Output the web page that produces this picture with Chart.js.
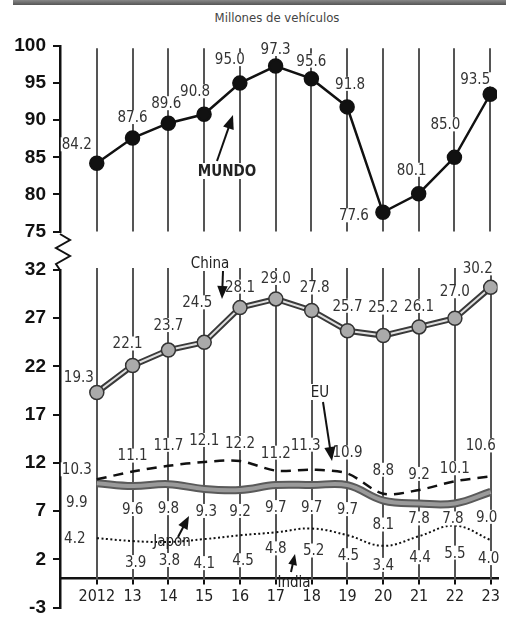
<!DOCTYPE html>
<html>
<head>
<meta charset="utf-8">
<script src="https://cdn.jsdelivr.net/npm/chart.js@4.4.0/dist/chart.umd.min.js"></script>
<style>
  body { margin: 0; background: #fff; width: 506px; height: 626px; overflow: hidden; position: relative; }
  #band { position: absolute; left: 13px; top: 0; width: 493px; height: 5px; background: linear-gradient(#888, #555); }
  #title { position: absolute; top: 10px; left: 0; width: 554px; text-align: center; color: #444;
           font: 13px "DejaVu Sans Condensed", "Liberation Sans Narrow", "DejaVu Sans", sans-serif; }
  canvas { position: absolute; left: 0; }
  #topChart { top: 0; }
  #bottomChart { top: 228px; }
</style>
</head>
<body>
<div id="band"></div>
<div id="title">Millones de vehículos</div>
<canvas id="topChart" width="506" height="250"></canvas>
<canvas id="bottomChart" width="506" height="398"></canvas>
<script>
// data, millones de vehiculos
const years = ["2012", "13", "14", "15", "16", "17", "18", "19", "20", "21", "22", "23"];
const mundo = [84.2, 87.6, 89.6, 90.8, 95.0, 97.3, 95.6, 91.8, 77.6, 80.1, 85.0, 93.5];
const china = [19.3, 22.1, 23.7, 24.5, 28.1, 29.0, 27.8, 25.7, 25.2, 26.1, 27.0, 30.2];
const eu = [10.3, 11.1, 11.7, 12.1, 12.2, 11.2, 11.3, 10.9, 8.8, 9.2, 10.1, 10.6];
const japan = [9.9, 9.6, 9.8, 9.3, 9.2, 9.7, 9.7, 9.7, 8.1, 7.8, 7.8, 9.0];
const india = [4.2, 3.9, 3.8, 4.1, 4.5, 4.8, 5.2, 4.5, 3.4, 4.4, 5.5, 4.0];
const topTicks = [75, 80, 85, 90, 95, 100];
const bottomTicks = [-3, 2, 7, 12, 17, 22, 27, 32];

// where each value label sits relative to its point (px)
const mundoOff = [[-20,-19],[0,-21],[-2,-20],[-9,-23],[-10,-24],[0,-17],[0,-18],[3,-23],[-29,3],[-7,-24],[-9,-33],[-15,-15]];
const chinaOff = [[-18,-15],[-5,-22],[0,-25],[-7,-40],[0,-21],[0,-21],[3,-23],[0,-25],[0,-28],[0,-21],[0,-27],[-13,-19]];
const euOff = [[-20,-10],[0,-16],[0,-21],[0,-22],[0,-18],[0,-18],[-6,-25],[0,-21],[0,-24],[0,-16],[0,-13],[-10,-31]];
const japanOff = [[-20,19],[0,23],[0,24],[2,22],[0,21],[0,22],[0,22],[0,24],[0,24],[0,15],[-2,15],[-4,25]];
const indiaOff = [[-22,0],[3,21],[1,18],[0,24],[3,25],[0,16],[2,22],[1,20],[0,19],[1,21],[0,27],[-2,18]];

const FONT = '"DejaVu Sans Condensed", "Liberation Sans Narrow", "DejaVu Sans", sans-serif';

function pts(arr) {
  return arr.map((v, i) => ({ x: i, y: v }));
}

function xAxis(show) {
  return {
    type: "linear",
    min: -1.028,
    max: 11.19,
    display: show,
    position: show ? { y: 0 } : "bottom",
    afterBuildTicks: (a) => { a.ticks = years.map((_, i) => ({ value: i })); },
    border: { display: true, color: "#111", width: 2.5 },
    grid: { drawOnChartArea: false, color: "#111", lineWidth: 2, tickLength: 5 },
    ticks: {
      color: "#222", padding: 4, maxRotation: 0, autoSkip: false,
      font: { family: FONT, size: 16 },
      callback: (v) => years[v],
    },
  };
}

function yAxis(tickVals, min, max) {
  return {
    min: min,
    max: max,
    afterBuildTicks: (a) => { a.ticks = tickVals.map((v) => ({ value: v })); },
    afterFit: (s) => { s.width = 60; },
    border: { display: true, color: "#111", width: 2.5 },
    grid: { drawOnChartArea: false, color: "#111", lineWidth: 2, tickLength: 7 },
    ticks: { color: "#111", padding: 7, font: { family: '"Liberation Sans", Arial, sans-serif', size: 19, weight: "bold" } },
  };
}

// vertical lines at each year
function gridLines(fromV, toV) {
  return {
    id: "vgrid",
    beforeDatasetsDraw(chart) {
      const { ctx, scales: { x, y } } = chart;
      ctx.save();
      ctx.strokeStyle = "#555";
      ctx.lineWidth = 2;
      years.forEach((_, i) => {
        const px = Math.round(x.getPixelForValue(i));
        ctx.beginPath();
        ctx.moveTo(px, y.getPixelForValue(fromV));
        ctx.lineTo(px, y.getPixelForValue(toV));
        ctx.stroke();
      });
      ctx.restore();
    },
  };
}

function valueLabels(sets) {
  return {
    id: "vlabels",
    afterDatasetsDraw(chart) {
      const { ctx, scales: { x, y } } = chart;
      ctx.save();
      ctx.font = "15px " + FONT;
      ctx.textAlign = "center";
      ctx.textBaseline = "middle";
      sets.forEach(([vals, off]) => {
        vals.forEach((v, i) => {
          const t = v.toFixed(1);
          const px = x.getPixelForValue(i) + off[i][0];
          const py = y.getPixelForValue(v) + off[i][1];
          const w = ctx.measureText(t).width;
          ctx.fillStyle = "#fff";
          ctx.fillRect(px - w / 2 - 1, py - 7, w + 2, 14);
          ctx.fillStyle = "#333";
          ctx.fillText(t, px, py + 1);
        });
      });
      ctx.restore();
    },
  };
}

function arrow(ctx, x1, y1, x2, y2, head) {
  const a = Math.atan2(y2 - y1, x2 - x1);
  const c = Math.cos(a), s = Math.sin(a);
  ctx.beginPath();
  ctx.moveTo(x1, y1);
  ctx.lineTo(x2 - c * head * 0.8, y2 - s * head * 0.8);
  ctx.stroke();
  ctx.beginPath();
  ctx.moveTo(x2, y2);
  ctx.lineTo(x2 - head * c + head * 0.4 * s, y2 - head * s - head * 0.4 * c);
  ctx.lineTo(x2 - head * c - head * 0.4 * s, y2 - head * s + head * 0.4 * c);
  ctx.closePath();
  ctx.fill();
}

// series names and arrows, page coords
function notes(list, offY, zig) {
  return {
    id: "notes",
    afterDraw(chart) {
      const ctx = chart.ctx;
      ctx.save();
      ctx.strokeStyle = "#111";
      ctx.fillStyle = "#111";
      ctx.lineWidth = 2;
      if (zig) {
        ctx.beginPath();
        zig.forEach((p, i) => (i ? ctx.lineTo(p[0], p[1] - offY) : ctx.moveTo(p[0], p[1] - offY)));
        ctx.stroke();
      }
      list.forEach((n) => {
        if (n.arrow) arrow(ctx, n.arrow[0], n.arrow[1] - offY, n.arrow[2], n.arrow[3] - offY, n.arrow[4]);
        ctx.font = (n.bold ? "bold " : "") + "15px " + FONT;
        ctx.textAlign = "center";
        ctx.textBaseline = "middle";
        const w = ctx.measureText(n.text).width;
        if (n.bg) {
          ctx.fillStyle = "#fff";
          ctx.fillRect(n.x - w / 2 - 2, n.y - offY - 8, w + 4, 16);
        }
        ctx.fillStyle = "#222";
        ctx.fillText(n.text, n.x, n.y - offY + 1);
        ctx.fillStyle = "#111";
      });
      ctx.restore();
    },
  };
}

const baseOpts = {
  responsive: false,
  animation: false,
  events: [],
  plugins: { legend: { display: false }, tooltip: { enabled: false } },
};

// MUNDO
new Chart(document.getElementById("topChart"), {
  type: "line",
  data: {
    datasets: [
      {
        data: pts(mundo),
        borderColor: "#111",
        borderWidth: 2.5,
        pointRadius: 6.5,
        pointBackgroundColor: "#111",
        pointBorderColor: "#111",
        tension: 0,
      },
    ],
  },
  options: {
    ...baseOpts,
    layout: { padding: { top: 46, bottom: 16, left: 0, right: 6 } },
    scales: { x: xAxis(false), y: yAxis(topTicks, 75, 100) },
  },
  plugins: [
    gridLines(99.7, 75),
    valueLabels([[mundo, mundoOff]]),
    notes([{ text: "MUNDO", x: 227, y: 171, bold: true, bg: true, arrow: [217, 161, 233, 115, 14] }], 0),
  ],
});

// China, EU, Japon, India
new Chart(document.getElementById("bottomChart"), {
  type: "line",
  data: {
    datasets: [
      { data: pts(japan), borderColor: "#5a5a5a", borderWidth: 8, pointRadius: 0, tension: 0.4, order: 6 },
      { data: pts(japan), borderColor: "#9a9a9a", borderWidth: 4, pointRadius: 0, tension: 0.4, order: 5 },
      { data: pts(india), borderColor: "#111", borderWidth: 2, borderDash: [2, 2.5], pointRadius: 0, tension: 0.4, order: 4 },
      { data: pts(eu), borderColor: "#111", borderWidth: 2.5, borderDash: [10, 7], pointRadius: 0, tension: 0.3, order: 3 },
      { data: pts(china), borderColor: "#3a3a3a", borderWidth: 6, pointRadius: 0, tension: 0, order: 2 },
      {
        data: pts(china),
        borderColor: "#e0e0e0",
        borderWidth: 2,
        pointRadius: 7,
        pointBackgroundColor: "#aaa",
        pointBorderColor: "#333",
        pointBorderWidth: 1.5,
        tension: 0,
        order: 1,
      },
    ],
  },
  options: {
    ...baseOpts,
    layout: { padding: { top: 42, bottom: 6, left: 0, right: 6 } },
    scales: { x: xAxis(true), y: yAxis(bottomTicks, -3, 32) },
  },
  plugins: [
    gridLines(32.2, 0),
    valueLabels([[china, chinaOff], [eu, euOff], [japan, japanOff], [india, indiaOff]]),
    notes(
      [
        { text: "China", x: 210, y: 263, bg: true, arrow: [223, 271, 222, 299, 13] },
        { text: "EU", x: 320, y: 392, bg: true, arrow: [323, 402, 332, 461, 14] },
        { text: "Japon", x: 172, y: 541, arrow: [178, 537, 189, 516, 13] },
        { text: "India", x: 294, y: 582, arrow: [291, 572, 295, 554, 11] },
      ],
      228,
      [[60, 234], [70, 240], [56, 248], [70, 256], [56, 264], [60, 270]]
    ),
  ],
});
</script>
</body>
</html>
